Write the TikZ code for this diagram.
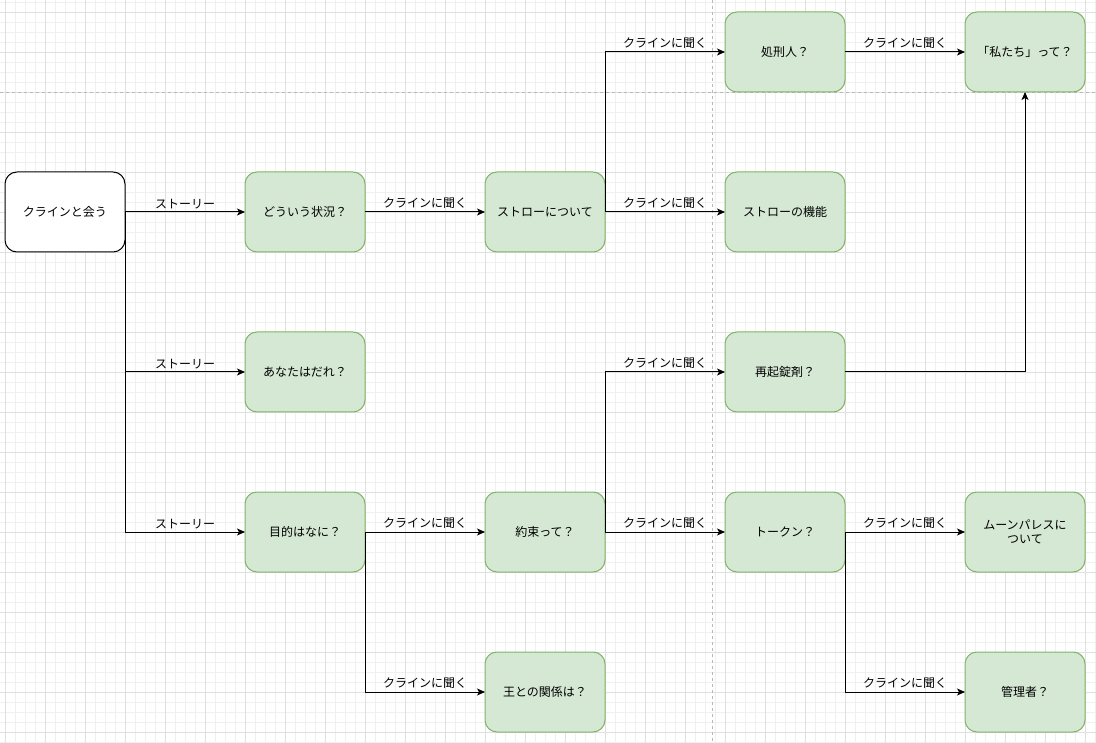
\documentclass[tikz,border=0pt]{standalone}
\usepackage{fontspec}
\setmainfont{Noto Sans CJK JP}
\usetikzlibrary{positioning,arrows.meta}

\definecolor{boxfill}{HTML}{D5E8D4}
\definecolor{boxline}{HTML}{82B366}

\begin{document}
\begin{tikzpicture}[x=1pt, y=-1pt, line width=1pt, >={Stealth[length=8pt,width=7pt,inset=2pt]},
		main/.style = {draw=boxline, fill=boxfill, rounded corners=12pt, minimum width=120pt, minimum height=80pt, inner sep=2pt, outer sep=0pt, align=center, font=\fontsize{12}{14}\selectfont},
		start/.style = {main, draw=black, fill=white},
		lbl/.style = {above=2pt, inner sep=1pt, font=\fontsize{12}{14}\selectfont}]
		% grid
		\fill[white] (0,0) rectangle (1096,743);
		\useasboundingbox (0,0) rectangle (1096,743);
		\foreach \x in {5,15,...,1095} \draw[black!6, line width=0.8pt] (\x,0) -- (\x,743);
		\foreach \y in {2,12,...,742} \draw[black!6, line width=0.8pt] (0,\y) -- (1096,\y);
		\foreach \x in {5,45,...,1085} \draw[black!12, line width=0.8pt] (\x,0) -- (\x,743);
		\foreach \y in {12,52,...,732} \draw[black!12, line width=0.8pt] (0,\y) -- (1096,\y);
		\draw[black!28, line width=0.8pt, dash pattern=on 3pt off 3pt] (0,92) -- (1096,92);
		\draw[black!28, line width=0.8pt, dash pattern=on 3pt off 3pt] (712,0) -- (712,743);

		\node[start] (1) at (65,212) {クラインと会う};
		\node[main] (2) [right=120pt of 1] {どういう状況？};
		\node[main] (3) [below=80pt of 2] {あなたはだれ？};
		\node[main] (4) [below=80pt of 3] {目的はなに？};
		\node[main] (5) [right=120pt of 2] {ストローについて};
		\node[main] (6) [right=120pt of 4] {約束って？};
		\node[main] (7) [below=80pt of 6] {王との関係は？};
		\node[main] (9) [right=120pt of 5] {ストローの機能};
		\node[main] (8) [above=80pt of 9] {処刑人？};
		\node[main] (11) [right=120pt of 6] {トークン？};
		\node[main] (10) [above=80pt of 11] {再起錠剤？};
		\node[main] (12) [right=120pt of 8] {「私たち」って？};
		\node[main] (13) [right=120pt of 11] {ムーンパレスに\\ついて};
		\node[main] (14) [below=80pt of 13] {管理者？};

		\draw[->] (1) -- node[lbl] {ストーリー} (2);
		\draw[->] (1.east) |- node[lbl, pos=0.75] {ストーリー} (3.west);
		\draw[->] (1.east) |- node[lbl, pos=0.75] {ストーリー} (4.west);
		\draw[->] (2) -- node[lbl] {クラインに聞く} (5);
		\draw[->] (5.east) |- node[lbl, pos=0.75] {クラインに聞く} (8.west);
		\draw[->] (5) -- node[lbl] {クラインに聞く} (9);
		\draw[->] (8) -- node[lbl] {クラインに聞く} (12);
		\draw[->] (10.east) -| (12.south);
		\draw[->] (4) -- node[lbl] {クラインに聞く} (6);
		\draw[->] (4.east) |- node[lbl, pos=0.75] {クラインに聞く} (7.west);
		\draw[->] (6.east) |- node[lbl, pos=0.75] {クラインに聞く} (10.west);
		\draw[->] (6) -- node[lbl] {クラインに聞く} (11);
		\draw[->] (11) -- node[lbl] {クラインに聞く} (13);
		\draw[->] (11.east) |- node[lbl, pos=0.75] {クラインに聞く} (14.west);
	\end{tikzpicture}
\end{document}
